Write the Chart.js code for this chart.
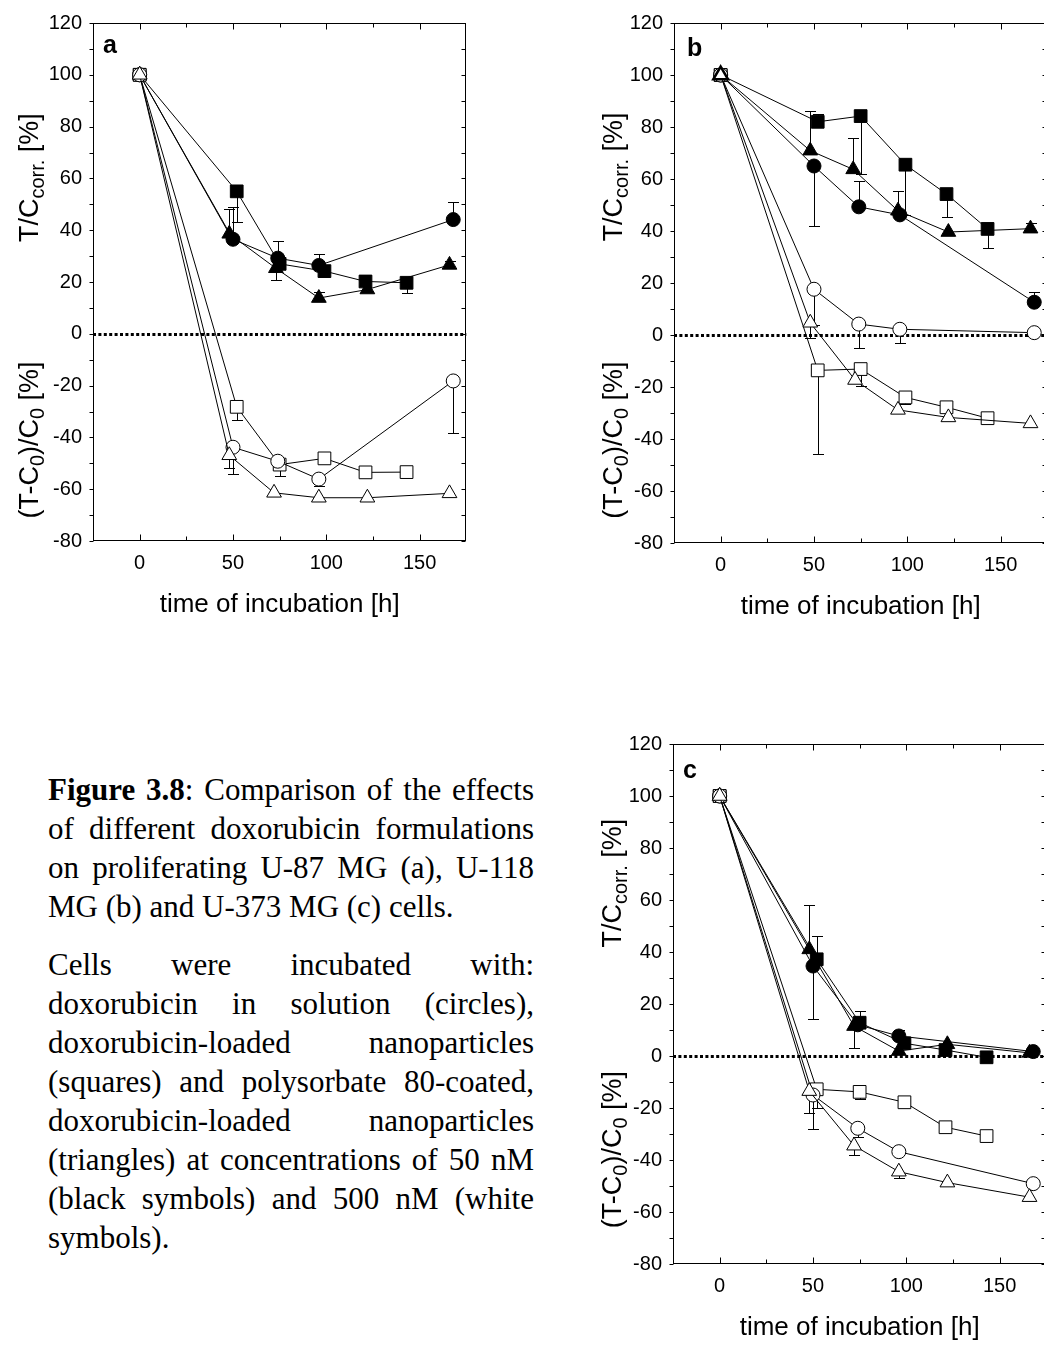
<!DOCTYPE html>
<html>
<head>
<meta charset="utf-8">
<script src="https://cdn.jsdelivr.net/npm/chart.js@4.4.1/dist/chart.umd.min.js"></script>
<style>
html, body { margin: 0; padding: 0; background: #fff; overflow: hidden; }
body { width: 1044px; height: 1346px; position: relative; }
canvas { position: absolute; }
#caption { position: absolute; left: 48px; top: 770px; width: 486px; font-family: 'Liberation Serif', 'Times New Roman', serif; font-size: 31px; line-height: 39px; color: #000; }
#caption .j { text-align: justify; text-align-last: justify; }
#caption .gap { height: 19px; }
</style>
</head>
<body>
<canvas id="chartA" width="480" height="640" style="left:0;top:0"></canvas>
<canvas id="chartB" width="490" height="640" style="left:570px;top:0"></canvas>
<canvas id="chartC" width="490" height="626" style="left:570px;top:720px"></canvas>

<div id="caption">
  <div class="j"><b>Figure 3.8</b>: Comparison of the effects</div>
  <div class="j">of different doxorubicin formulations</div>
  <div class="j">on proliferating U-87 MG (a), U-118</div>
  <div>MG (b) and U-373 MG (c) cells.</div>
  <div class="gap"></div>
  <div class="j">Cells were incubated with:</div>
  <div class="j">doxorubicin in solution (circles),</div>
  <div class="j">doxorubicin-loaded nanoparticles</div>
  <div class="j">(squares) and polysorbate 80-coated,</div>
  <div class="j">doxorubicin-loaded nanoparticles</div>
  <div class="j">(triangles) at concentrations of 50 nM</div>
  <div class="j">(black symbols) and 500 nM (white</div>
  <div>symbols).</div>
</div>

<script>
// --- AXES ---
const xTickVals = [0, 50, 100, 150];
const yTickVals = [-80, -60, -40, -20, 0, 20, 40, 60, 80, 100, 120];

// --- PANEL A : U-87 MG ---
// 50 nM (black)
const a_sol50_h = [0, 50, 74, 96, 168];
const a_sol50_v = [100, 36.5, 29.2, 26.4, 44.1];
const a_sol50_err = [null, 49, 36, 31, 51];
const a_np50_h = [0, 52, 75, 99, 121, 143];
const a_np50_v = [100, 55, 27, 24.2, 20.2, 19.7];
const a_np50_err = [null, 43, null, 22.5, null, 15.8];
const a_ps50_h = [0, 48, 73, 96, 122, 166];
const a_ps50_v = [100, 38.6, 25.3, 13.8, 17.1, 26.6];
const a_ps50_err = [null, 48, 20.8, 16.3, null, 28];
// 500 nM (white)
const a_sol500_h = [0, 50, 74, 96, 168];
const a_sol500_v = [100, -43.8, -49.2, -56.1, -18.2];
const a_sol500_err = [null, -54, null, -58.8, -38.3];
const a_np500_h = [0, 52, 75, 99, 121, 143];
const a_np500_v = [100, -28.2, -50.5, -48.1, -53.5, -53.4];
const a_np500_err = [null, -33.4, -54.8, null, null, null];
const a_ps500_h = [0, 48, 72, 96, 122, 166];
const a_ps500_v = [100, -46.9, -61.4, -63.3, -63.3, -61.6];
const a_ps500_err = [null, -52, null, null, null, null];

// --- PANEL B : U-118 MG ---
const b_sol50_h = [0, 50, 74, 96, 168];
const b_sol50_v = [100, 65, 49.3, 46.2, 12.6];
const b_sol50_err = [null, 42, 59.2, null, 16.5];
const b_np50_h = [0, 52, 75, 99, 121, 143];
const b_np50_v = [100, 82, 84.2, 65.5, 54.2, 40.8];
const b_np50_err = [null, 85, 62, 46, 45.5, 33.6];
const b_ps50_h = [0, 48, 71, 95, 122, 166];
const b_ps50_v = [100, 70.9, 63.7, 47.8, 39.6, 40.9];
const b_ps50_err = [null, 86, 75.6, 55.5, null, 43];
const b_sol500_h = [0, 50, 74, 96, 168];
const b_sol500_v = [100, 17.6, 4.2, 2.2, 0.9];
const b_sol500_err = [null, 4, -5.1, -3, null];
const b_np500_h = [0, 52, 75, 99, 121, 143];
const b_np500_v = [100, -13.6, -13.1, -24, -27.8, -32];
const b_np500_err = [null, -45.9, -19.5, -26.5, null, null];
const b_ps500_h = [0, 48, 72, 95, 122, 166];
const b_ps500_v = [100, 4.7, -17.3, -28.8, -31.7, -34];
const b_ps500_err = [null, -1, null, null, null, null];

// --- PANEL C : U-373 MG ---
const c_sol50_h = [0, 50, 74, 96, 168];
const c_sol50_v = [100, 34.6, 12, 7.7, 1.7];
const c_sol50_err = [null, 14.1, null, 10, null];
const c_np50_h = [0, 52, 75, 99, 121, 143];
const c_np50_v = [100, 37.2, 12.8, 4.9, 2.3, -0.5];
const c_np50_err = [null, 46, 17.4, null, null, null];
const c_ps50_h = [0, 48, 72, 96, 122, 166];
const c_ps50_v = [100, 41, 11.5, 1.9, 4.5, 1.2];
const c_ps50_err = [null, 58, 3, null, null, null];
const c_sol500_h = [0, 50, 74, 96, 168];
const c_sol500_v = [100, -15, -27.8, -36.8, -49.1];
const c_sol500_err = [null, -28, -31, null, null];
const c_np500_h = [0, 52, 75, 99, 121, 143];
const c_np500_v = [100, -12.8, -13.8, -17.8, -27.4, -30.8];
const c_np500_err = [null, -20, -16.5, null, null, null];
const c_ps500_h = [0, 48, 72, 96, 122, 166];
const c_ps500_v = [100, -13.5, -34.5, -44.5, -48.7, -54.3];
const c_ps500_err = [null, -22, -38, -46.8, null, null];

Chart.defaults.font.family = "'Liberation Sans', Arial, sans-serif";
Chart.defaults.color = '#000';

// marker looks: circles = solution, squares = nanoparticles, triangles = polysorbate 80
const shapes = { sol: ['circle', 7], np: ['rect', 9], ps: ['triangle', 8.5] };

function series(kind, black, h, v, err, startBorder) {
    return {
        data: h.map((t, i) => ({ x: t, y: v[i] })),
        errEnd: err,
        showLine: true,
        borderColor: '#000', borderWidth: 1,
        pointStyle: shapes[kind][0], pointRadius: shapes[kind][1],
        pointBackgroundColor: black ? '#000' : '#fff',
        pointBorderColor: '#000',
        pointBorderWidth: h.map((t, i) => (i === 0 && startBorder) ? startBorder : 1),
        pointHoverRadius: shapes[kind][1]
    };
}

function drawRotated(ctx, x, yc, parts) {
    const big = "27px 'Liberation Sans', Arial, sans-serif";
    const small = "20px 'Liberation Sans', Arial, sans-serif";
    let w = 0;
    parts.forEach(p => { ctx.font = p[1] ? small : big; w += ctx.measureText(p[0]).width; });
    ctx.save();
    ctx.translate(x, yc); ctx.rotate(-Math.PI / 2);
    ctx.textBaseline = 'alphabetic'; ctx.textAlign = 'left'; ctx.fillStyle = '#000';
    let cx = -w / 2;
    parts.forEach(p => {
        ctx.font = p[1] ? small : big;
        ctx.fillText(p[0], cx, p[1] ? 6 : 0);
        cx += ctx.measureText(p[0]).width;
    });
    ctx.restore();
}

const decor = {
    id: 'decor',
    beforeDatasetsDraw(chart) {
        const { ctx, chartArea: ca, scales: { x, y } } = chart;
        ctx.save();
        // dotted zero line
        const y0 = Math.round(y.getPixelForValue(0)) + 0.5;
        ctx.strokeStyle = '#000'; ctx.lineWidth = 3; ctx.setLineDash([3, 2.4]);
        ctx.beginPath(); ctx.moveTo(ca.left, y0); ctx.lineTo(ca.right, y0); ctx.stroke();
        ctx.setLineDash([]);
        // one-sided error bars
        ctx.lineWidth = 1;
        chart.data.datasets.forEach(ds => ds.data.forEach((p, i) => {
            const e = ds.errEnd[i];
            if (e == null) return;
            const px = Math.round(x.getPixelForValue(p.x)) + 0.5;
            const py = y.getPixelForValue(p.y), pe = Math.round(y.getPixelForValue(e)) + 0.5;
            ctx.beginPath();
            ctx.moveTo(px, py); ctx.lineTo(px, pe);
            ctx.moveTo(px - 5.5, pe); ctx.lineTo(px + 5.5, pe);
            ctx.stroke();
        }));
        ctx.restore();
    },
    afterDraw(chart) {
        const { ctx, chartArea: ca, scales: { x, y } } = chart;
        const L = chart.options.plugins.decor;
        ctx.save();
        ctx.strokeStyle = '#000'; ctx.lineWidth = 1;
        const l = Math.round(ca.left) + 0.5, r = Math.round(ca.right) - 0.5;
        const t = Math.round(ca.top) + 0.5, b = Math.round(ca.bottom) - 0.5;
        ctx.strokeRect(l, t, r - l, b - t);
        ctx.beginPath();
        for (let v = -80; v <= 120; v += 10) {
            const py = Math.round(y.getPixelForValue(v)) + 0.5;
            ctx.moveTo(l - 4, py); ctx.lineTo(l, py);
            ctx.moveTo(r, py); ctx.lineTo(r - 4, py);
        }
        for (let h = 0; h <= 150; h += 25) {
            const px = Math.round(x.getPixelForValue(h)) + 0.5;
            const len = h % 50 === 0 ? 6 : 4;
            ctx.moveTo(px, b); ctx.lineTo(px, b - len);
            ctx.moveTo(px, t); ctx.lineTo(px, t + len);
        }
        ctx.stroke();
        // axis titles
        drawRotated(ctx, L.titleX, y.getPixelForValue(L.upperAt), [['T/C', 0], ['corr.', 1], [' [%]', 0]]);
        drawRotated(ctx, L.titleX, y.getPixelForValue(L.lowerAt), [['(T-C', 0], ['0', 1], [')/C', 0], ['0', 1], [' [%]', 0]]);
        ctx.fillStyle = '#000';
        ctx.font = "26px 'Liberation Sans', Arial, sans-serif";
        ctx.textAlign = 'center'; ctx.textBaseline = 'middle';
        ctx.fillText('time of incubation [h]', (ca.left + ca.right) / 2, ca.bottom + 64);
        // panel letter
        ctx.font = "bold 25px 'Liberation Sans', Arial, sans-serif";
        ctx.textAlign = 'left'; ctx.textBaseline = 'alphabetic';
        ctx.fillText(L.letter, L.letterX, L.letterY);
        ctx.restore();
    }
};

function makePanel(id, sets, L) {
    return new Chart(document.getElementById(id), {
        type: 'scatter',
        data: { datasets: sets },
        plugins: [decor],
        options: {
            responsive: false, animation: false, devicePixelRatio: 1,
            layout: { padding: { left: 0, top: L.padTop, right: L.padRight, bottom: 0 } },
            plugins: { legend: { display: false }, tooltip: { enabled: false }, decor: L },
            scales: {
                x: {
                    type: 'linear', min: -25, max: 175,
                    grid: { display: false, drawTicks: false }, border: { display: false },
                    afterBuildTicks: s => { s.ticks = xTickVals.map(v => ({ value: v })); },
                    afterFit: s => { s.height = L.xAxisH; },
                    ticks: { font: { size: 20 }, padding: 10, maxRotation: 0, autoSkip: false }
                },
                y: {
                    type: 'linear', min: -80, max: 120,
                    grid: { display: false, drawTicks: false }, border: { display: false },
                    afterBuildTicks: s => { s.ticks = yTickVals.map(v => ({ value: v })); },
                    afterFit: s => { s.width = L.yAxisW; },
                    ticks: { font: { size: 20 }, padding: 11, autoSkip: false }
                }
            }
        }
    });
}

// Chart.js paints dataset 0 last (on top), so the white triangles come first
makePanel('chartA', [
    series('ps', false, a_ps500_h, a_ps500_v, a_ps500_err),
    series('sol', false, a_sol500_h, a_sol500_v, a_sol500_err),
    series('np', false, a_np500_h, a_np500_v, a_np500_err),
    series('ps', true, a_ps50_h, a_ps50_v, a_ps50_err),
    series('np', true, a_np50_h, a_np50_v, a_np50_err),
    series('sol', true, a_sol50_h, a_sol50_v, a_sol50_err)
], { padTop: 22, padRight: 13.7, yAxisW: 93, xAxisH: 99, titleX: 38, upperAt: 60.3, lowerAt: -41, letter: 'a', letterX: 103, letterY: 53 });

makePanel('chartB', [
    series('ps', false, b_ps500_h, b_ps500_v, b_ps500_err, 2.5),
    series('sol', false, b_sol500_h, b_sol500_v, b_sol500_err),
    series('np', false, b_np500_h, b_np500_v, b_np500_err),
    series('ps', true, b_ps50_h, b_ps50_v, b_ps50_err),
    series('np', true, b_np50_h, b_np50_v, b_np50_err),
    series('sol', true, b_sol50_h, b_sol50_v, b_sol50_err)
], { padTop: 23, padRight: 12.7, yAxisW: 104, xAxisH: 97, titleX: 52, upperAt: 60.8, lowerAt: -40.4, letter: 'b', letterX: 117, letterY: 56 });

makePanel('chartC', [
    series('ps', false, c_ps500_h, c_ps500_v, c_ps500_err),
    series('sol', false, c_sol500_h, c_sol500_v, c_sol500_err),
    series('np', false, c_np500_h, c_np500_v, c_np500_err),
    series('ps', true, c_ps50_h, c_ps50_v, c_ps50_err),
    series('np', true, c_np50_h, c_np50_v, c_np50_err),
    series('sol', true, c_sol50_h, c_sol50_v, c_sol50_err)
], { padTop: 24, padRight: 13.7, yAxisW: 103, xAxisH: 82, titleX: 51, upperAt: 66.5, lowerAt: -36, letter: 'c', letterX: 113, letterY: 58 });
</script>
</body>
</html>
